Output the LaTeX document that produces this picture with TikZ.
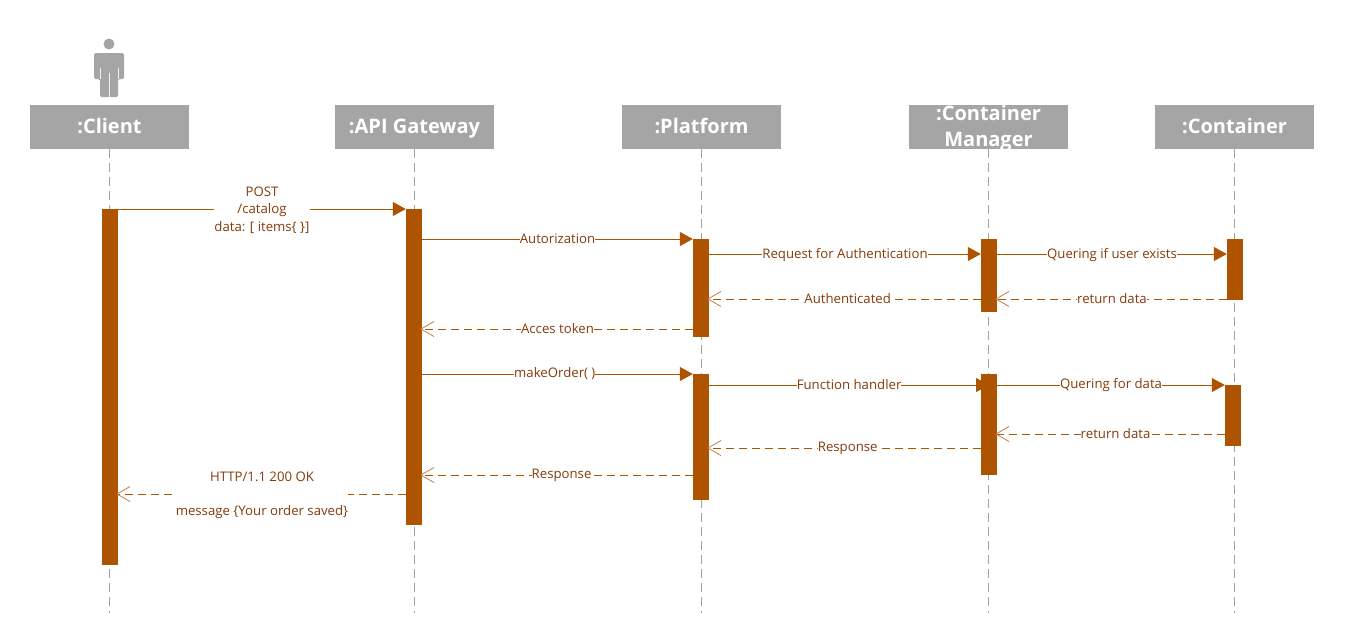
\documentclass[tikz,border=0pt]{standalone}
\usepackage{fontspec}
\setmainfont{Open Sans}
\usetikzlibrary{arrows.meta}
\definecolor{headgray}{HTML}{A5A5A5}
\definecolor{linegray}{HTML}{A0A0A0}
\definecolor{barbrown}{HTML}{AE5300}
\definecolor{textbrown}{HTML}{843C0C}
\newcommand{\hstrut}{\rule[-6.8pt]{0pt}{26pt}}
\tikzset{
header/.style={fill=headgray,text=white,font=\fontsize{20}{26}\selectfont\bfseries,minimum width=159pt,minimum height=44pt,inner xsep=0pt,inner ysep=-4pt,align=center},
lifeline/.style={draw=linegray,line width=0.8pt,dash pattern=on 9pt off 5pt},
activebar/.style={fill=barbrown,minimum width=16pt,inner sep=0pt,anchor=north},
msgcall/.style={draw=barbrown,line width=1pt,-{Triangle[length=13pt,width=14pt,fill=barbrown]}},
msgreply/.style={draw=barbrown,line width=1pt,dash pattern=on 8pt off 5pt,shorten >=-2pt,-{Straight Barb[length=13pt,width=15pt,line width=0.8pt,color=barbrown!75]}},
msglabel/.style={fill=white,text=textbrown,font=\fontsize{13.2}{17.5}\selectfont,inner sep=0pt,align=center},
}
\begin{document}
\begin{tikzpicture}[x=1pt,y=-1pt]
\useasboundingbox (0,0) rectangle (1354,633);
\foreach \name/\txt/\x in {client/\hstrut:Client/109.5,gateway/\hstrut:API Gateway/414.5,platform/\hstrut:Platform/701.5,manager/{\hstrut:Container\\\hstrut Manager}/988.5,container/\hstrut:Container/1234.5}{
  \node[header] (\name) at (\x,127) {\txt};
  \coordinate (\name end) at (\x,613);
  \draw[lifeline] (\name.south) -- (\name end);
}
% actor
\fill[headgray] (109,44) circle (5.5);
\fill[headgray,rounded corners=1.5pt] (94,79) -- (94,53) -- (124,53) -- (124,79) -- (118,79) -- (118,97) -- (100,97) -- (100,79) -- cycle;
\draw[white!85!headgray,line width=0.8pt] (100,68) -- (100,79) (118,68) -- (118,79) (109,73) -- (109,97);
% bars
\node[activebar,minimum height=356pt] (clientbar) at (110,209) {};
\node[activebar,minimum height=316pt] (gatewaybar) at (414,209) {};
\node[activebar,minimum height=98pt] (platformbar) at (701,239) {};
\node[activebar,minimum height=126pt] (platformbar2) at (701,374) {};
\node[activebar,minimum height=73pt] (managerbar) at (989,239) {};
\node[activebar,minimum height=101pt] (managerbar2) at (989,374) {};
\node[activebar,minimum height=61pt] (containerbar) at (1235,239) {};
\node[activebar,minimum height=61pt] (containerbar2) at (1233,385) {};
% messages
\draw[msgcall] (clientbar.east |- 0,209) -- node[msglabel,yshift=-1pt] {POST\\/catalog\\data: [ items\{ \}]} (gatewaybar.west |- 0,209);
\draw[msgcall] (gatewaybar.east |- 0,239) -- node[msglabel] {Autorization} (platformbar.west |- 0,239);
\draw[msgcall] (platformbar.east |- 0,254) -- node[msglabel,yshift=-1pt] {Request for Authentication} (managerbar.west |- 0,254);
\draw[msgcall] (managerbar.east |- 0,254) -- node[msglabel,yshift=-1pt] {Quering if user exists} (containerbar.west |- 0,254);
\draw[msgreply] (containerbar.west |- 0,299) -- node[msglabel] {return data} (managerbar.east |- 0,299);
\draw[msgreply] (managerbar.west |- 0,299) -- node[msglabel,pos=0.49] {Authenticated} (platformbar.east |- 0,299);
\draw[msgreply] (platformbar.west |- 0,329) -- node[msglabel] {Acces token} (gatewaybar.east |- 0,329);
\draw[msgcall] (gatewaybar.east |- 0,374) -- node[msglabel,pos=0.49] {makeOrder( )} (platformbar2.west |- 0,374);
\draw[msgcall] (platformbar2.east |- 0,385) -- node[msglabel] {Function handler} (managerbar2.center |- 0,385);
\draw[msgcall] (managerbar2.east |- 0,385) -- node[msglabel] {Quering for data} (containerbar2.west |- 0,385);
\draw[msgreply] (containerbar2.west |- 0,434) -- node[msglabel,pos=0.48] {return data} (managerbar2.east |- 0,434);
\draw[msgreply] (managerbar2.west |- 0,448) -- node[msglabel,pos=0.49] {Response} (platformbar2.east |- 0,448);
\draw[msgreply] (platformbar2.west |- 0,475) -- node[msglabel,pos=0.485] {Response} (gatewaybar.east |- 0,475);
\draw[msgreply] (gatewaybar.west |- 0,494) -- node[msglabel,yshift=-1.5pt] {HTTP/1.1 200 OK\\[16.5pt]message \{Your order saved\}} (clientbar.east |- 0,494);
\end{tikzpicture}
\end{document}
